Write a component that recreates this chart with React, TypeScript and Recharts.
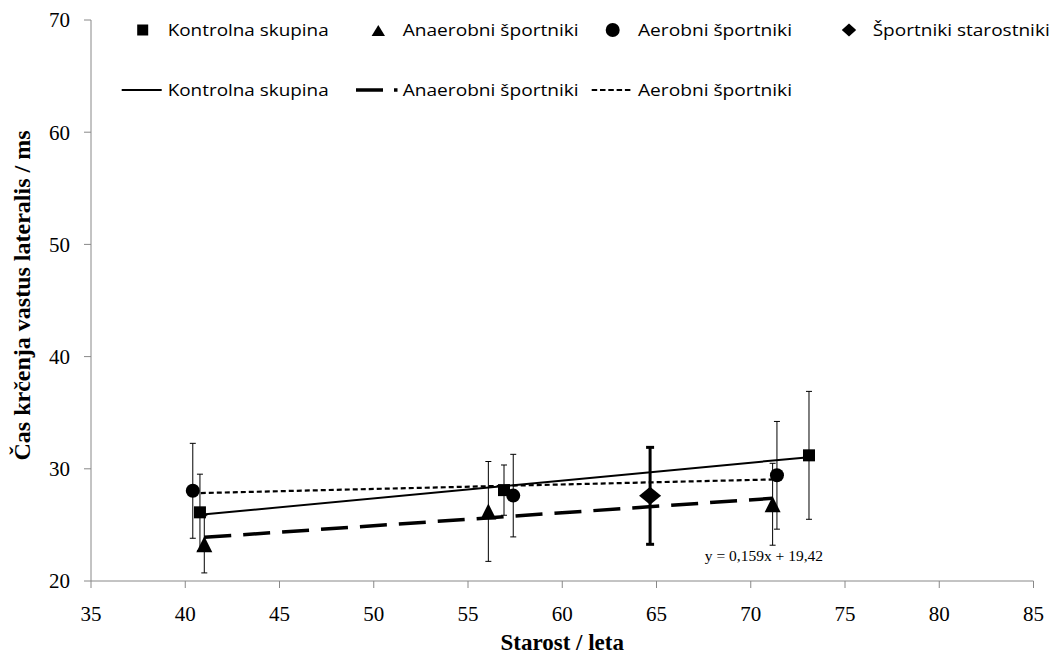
import React from 'react';
import { ScatterChart, Scatter, XAxis, YAxis, ErrorBar, Legend, Label, ReferenceDot } from 'recharts';

// ---- data ----
const xTicks = [35, 40, 45, 50, 55, 60, 65, 70, 75, 80, 85];
const yTicks = [20, 30, 40, 50, 60, 70];

const kontrolnaX = [40.78, 56.91, 73.09];
const kontrolnaY = [26.12, 28.1, 31.2];
const kontrolnaErr = [3.4, 2.24, 5.7];

const anaerobniX = [41.01, 56.08, 71.16];
const anaerobniY = [23.27, 26.2, 26.84];
const anaerobniErr = [2.55, 4.45, 3.65];

const aerobniX = [40.4, 57.4, 71.39];
const aerobniY = [28.04, 27.61, 29.42];
const aerobniErr = [4.23, 3.68, 4.8];

const starostnikiX = [64.66];
const starostnikiY = [27.59];
const starostnikiErr = [4.32];

// trend line end points
const trendKontrolnaX = [40.78, 73.09];
const trendKontrolnaY = [25.9, 31.04];
const trendAnaerobniX = [41.01, 71.16];
const trendAnaerobniY = [23.89, 27.37];
const trendAerobniX = [40.4, 71.39];
const trendAerobniY = [27.82, 29.06];

const equationText = 'y = 0,159x + 19,42';
const equationPos = { x: 70.7, y: 22.29 };

const seriesNames = ['Kontrolna skupina', 'Anaerobni športniki', 'Aerobni športniki', 'Športniki starostniki'];

const build = (xs: number[], ys: number[], es?: number[]) =>
  xs.map((x, i) => ({ x, y: ys[i], err: es ? es[i] : 0 }));

const kontrolnaData = build(kontrolnaX, kontrolnaY, kontrolnaErr);
const anaerobniData = build(anaerobniX, anaerobniY, anaerobniErr);
const aerobniData = build(aerobniX, aerobniY, aerobniErr);
const starostnikiData = build(starostnikiX, starostnikiY, starostnikiErr);
const trendKontrolna = build(trendKontrolnaX, trendKontrolnaY);
const trendAnaerobni = build(trendAnaerobniX, trendAnaerobniY);
const trendAerobni = build(trendAerobniX, trendAerobniY);

// ---- shapes ----
const SquareShape = (p: any) => <rect x={p.cx - 6} y={p.cy - 6} width={12} height={12} fill="#000" />;
const TriangleShape = (p: any) => (
  <polygon points={`${p.cx},${p.cy - 8} ${p.cx + 8},${p.cy + 8} ${p.cx - 8},${p.cy + 8}`} fill="#000" />
);
const CircleShape = (p: any) => <circle cx={p.cx} cy={p.cy} r={7} fill="#000" />;
const DiamondShape = (p: any) => (
  <polygon points={`${p.cx},${p.cy - 9} ${p.cx + 11},${p.cy} ${p.cx},${p.cy + 9} ${p.cx - 11},${p.cy}`} fill="#000" />
);
const NoShape = () => <g />;

const legendFont = { fontFamily: '"Open Sans", sans-serif', fontSize: 17, fill: '#000' };

const LegendContent = () => (
  <svg width={1054} height={110} style={{ display: 'block' }}>
    {/* row 1: markers */}
    <rect x={137.2} y={24.5} width={11} height={11} fill="#000" />
    <text x={167.7} y={36} textLength={161} lengthAdjust="spacingAndGlyphs" {...legendFont}>{seriesNames[0]}</text>
    <polygon points="378.3,25 385,36 371.6,36" fill="#000" />
    <text x={402.7} y={36} textLength={176} lengthAdjust="spacingAndGlyphs" {...legendFont}>{seriesNames[1]}</text>
    <circle cx={612.7} cy={30} r={7} fill="#000" />
    <text x={638} y={36} textLength={154} lengthAdjust="spacingAndGlyphs" {...legendFont}>{seriesNames[2]}</text>
    <polygon points="849,23.6 856.2,30 849,36.4 841.8,30" fill="#000" />
    <text x={872.7} y={36} textLength={177} lengthAdjust="spacingAndGlyphs" {...legendFont}>{seriesNames[3]}</text>
    {/* row 2: trend lines */}
    <line x1={121.7} y1={90} x2={161.7} y2={90} stroke="#000" strokeWidth={2} />
    <text x={167.7} y={96} textLength={161} lengthAdjust="spacingAndGlyphs" {...legendFont}>{seriesNames[0]}</text>
    <line x1={356} y1={90} x2={397.5} y2={90} stroke="#000" strokeWidth={3.5} strokeDasharray="27 11" />
    <text x={402.7} y={96} textLength={176} lengthAdjust="spacingAndGlyphs" {...legendFont}>{seriesNames[1]}</text>
    <line x1={591.7} y1={90} x2={633} y2={90} stroke="#000" strokeWidth={2} strokeDasharray="5.5 2.8" />
    <text x={638} y={96} textLength={154} lengthAdjust="spacingAndGlyphs" {...legendFont}>{seriesNames[2]}</text>
  </svg>
);

const YTitle = (props: any) => {
  const vb = props.viewBox;
  const cx = 22;
  const cy = vb.y + vb.height / 2 - 5;
  return (
    <text
      x={cx}
      y={cy}
      transform={`rotate(-90, ${cx}, ${cy})`}
      textAnchor="middle"
      dominantBaseline="central"
      fontFamily='"Liberation Serif", serif'
      fontWeight="bold"
      fontSize={24}
      fill="#000"
    >
      Čas krčenja vastus lateralis / ms
    </text>
  );
};

const XTitle = (props: any) => {
  const vb = props.viewBox;
  const cx = vb.x + vb.width / 2;
  const by = vb.y + 69;
  return (
    <text
      x={cx}
      y={by}
      textAnchor="middle"
      fontFamily='"Liberation Serif", serif'
      fontWeight="bold"
      fontSize={23}
      fill="#000"
    >
      Starost / leta
    </text>
  );
};

const tickStyle = { fontFamily: '"Liberation Serif", serif', fontSize: 21, fill: '#000' };
const axisColor = '#888888';

export default function App() {
  return (
    <div style={{ position: 'absolute', left: 0, top: 0, width: 1054, height: 656, background: '#fff' }}>
      <ScatterChart width={1054} height={656} margin={{ top: 20, right: 20.5, left: 0, bottom: 0 }}>
        <XAxis
          type="number"
          dataKey="x"
          domain={[35, 85]}
          ticks={xTicks}
          interval={0}
          height={75}
          tickSize={7}
          tickMargin={18}
          tick={tickStyle}
          axisLine={{ stroke: axisColor }}
          tickLine={{ stroke: axisColor }}
        >
          <Label content={XTitle} />
        </XAxis>
        <YAxis
          type="number"
          dataKey="y"
          domain={[20, 70]}
          ticks={yTicks}
          interval={0}
          width={91}
          tickSize={7}
          tickMargin={14}
          tick={tickStyle}
          axisLine={{ stroke: axisColor }}
          tickLine={{ stroke: axisColor }}
        >
          <Label content={YTitle} />
        </YAxis>
        <Legend
          layout="horizontal"
          verticalAlign="middle"
          align="center"
          content={LegendContent}
          wrapperStyle={{ position: 'absolute', top: 0, left: 0, width: 1054, height: 110 }}
        />

        {/* trend lines */}
        <Scatter
          name="Kontrolna skupina trend"
          data={trendKontrolna}
          shape={NoShape}
          line={{ stroke: '#000', strokeWidth: 2 }}
          isAnimationActive={false}
          legendType="none"
        />
        <Scatter
          name="Anaerobni športniki trend"
          data={trendAnaerobni}
          shape={NoShape}
          line={{ stroke: '#000', strokeWidth: 3.5, strokeDasharray: '27 12' }}
          isAnimationActive={false}
          legendType="none"
        />
        <Scatter
          name="Aerobni športniki trend"
          data={trendAerobni}
          shape={NoShape}
          line={{ stroke: '#000', strokeWidth: 2.2, strokeDasharray: '5 3' }}
          isAnimationActive={false}
          legendType="none"
        />

        {/* data points */}
        <Scatter name={seriesNames[0]} data={kontrolnaData} shape={SquareShape} fill="#000" isAnimationActive={false}>
          <ErrorBar dataKey="err" direction="y" width={3} stroke="#000" strokeWidth={1} />
        </Scatter>
        <Scatter name={seriesNames[1]} data={anaerobniData} shape={TriangleShape} fill="#000" isAnimationActive={false}>
          <ErrorBar dataKey="err" direction="y" width={3} stroke="#000" strokeWidth={1} />
        </Scatter>
        <Scatter name={seriesNames[2]} data={aerobniData} shape={CircleShape} fill="#000" isAnimationActive={false}>
          <ErrorBar dataKey="err" direction="y" width={3} stroke="#000" strokeWidth={1} />
        </Scatter>
        <Scatter name={seriesNames[3]} data={starostnikiData} shape={DiamondShape} fill="#000" isAnimationActive={false}>
          <ErrorBar dataKey="err" direction="y" width={4} stroke="#000" strokeWidth={3} />
        </Scatter>

        <ReferenceDot
          x={equationPos.x}
          y={equationPos.y}
          r={1}
          fill="none"
          stroke="none"
          label={{ value: equationText, position: 'center', fontFamily: '"Liberation Serif", serif', fontSize: 15.5, fill: '#000' }}
        />
      </ScatterChart>
    </div>
  );
}
